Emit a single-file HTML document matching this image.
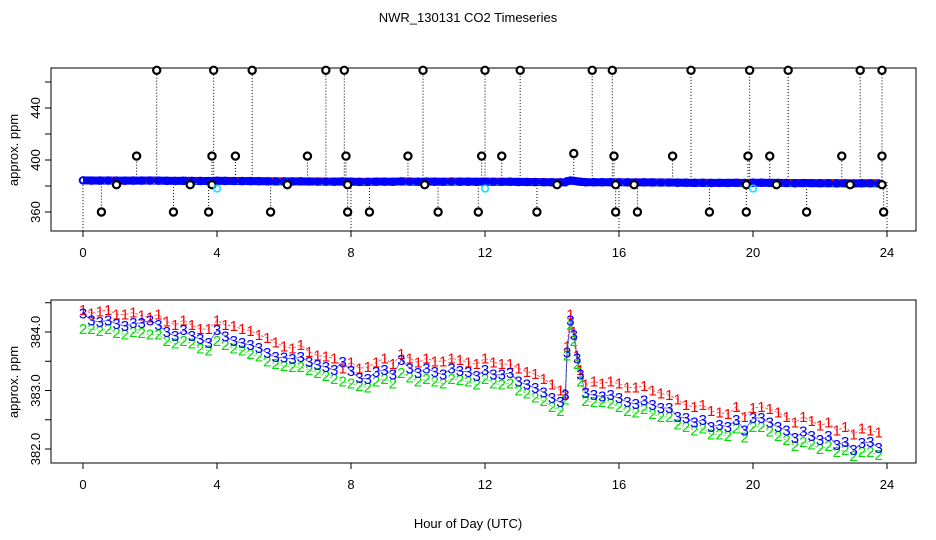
<!DOCTYPE html>
<html><head><meta charset="utf-8"><style>
body{margin:0;background:#fff}
svg{display:block;font-family:"Liberation Sans",sans-serif}
</style></head><body>
<svg id="c" width="936" height="540" viewBox="0 0 936 540">
<text x="468" y="22" text-anchor="middle" font-size="13">NWR_130131  CO2 Timeseries</text>
<text x="468" y="528" text-anchor="middle" font-size="13">Hour of Day (UTC)</text>
<text transform="translate(18,150) rotate(-90)" text-anchor="middle" font-size="13">approx. ppm</text>
<text transform="translate(18,382) rotate(-90)" text-anchor="middle" font-size="13">approx. ppm</text>
<g id="topPanel"></g>
<g id="botPanel"></g>
</svg>
<script>
const hours=[0,0.25,0.5,0.75,1,1.25,1.5,1.75,2,2.25,2.5,2.75,3,3.25,3.5,3.75,4,4.25,4.5,4.75,5,5.25,5.5,5.75,6,6.25,6.5,6.75,7,7.25,7.5,7.75,8,8.25,8.5,8.75,9,9.25,9.5,9.75,10,10.25,10.5,10.75,11,11.25,11.5,11.75,12,12.25,12.5,12.75,13,13.25,13.5,13.75,14,14.25,14.4,14.45,14.55,14.65,14.75,14.85,15,15.25,15.5,15.75,16,16.25,16.5,16.75,17,17.25,17.5,17.75,18,18.25,18.5,18.75,19,19.25,19.5,19.75,20,20.25,20.5,20.75,21,21.25,21.5,21.75,22,22.25,22.5,22.75,23,23.25,23.5,23.75];
const series3=[384.32,384.2,384.17,384.2,384.14,384.1,384.15,384.15,384.2,384.12,384.0,383.93,384.03,383.93,383.88,383.81,384.03,383.92,383.85,383.81,383.78,383.73,383.64,383.57,383.56,383.54,383.57,383.49,383.44,383.4,383.35,383.49,383.33,383.21,383.2,383.32,383.35,383.27,383.52,383.38,383.3,383.38,383.32,383.27,383.38,383.33,383.32,383.25,383.35,383.27,383.27,383.3,383.15,383.1,383.04,382.97,382.87,382.8,382.92,383.65,384.2,383.95,383.55,383.27,382.96,382.92,382.9,382.92,382.87,382.8,382.77,382.83,382.75,382.7,382.7,382.55,382.53,382.45,382.5,382.38,382.41,382.38,382.5,382.32,382.53,382.53,382.45,382.38,382.32,382.19,382.3,382.22,382.15,382.22,382.07,382.12,381.98,382.1,382.12,382.02];
const series1=[384.38,384.32,384.35,384.38,384.3,384.3,384.33,384.28,384.25,384.3,384.18,384.12,384.2,384.12,384.05,384.05,384.2,384.12,384.1,384.05,384.02,383.95,383.9,383.82,383.75,383.72,383.78,383.66,383.6,383.58,383.55,383.38,383.48,383.38,383.4,383.48,383.55,383.45,383.62,383.55,383.48,383.55,383.5,383.5,383.55,383.52,383.48,383.45,383.55,383.48,383.45,383.45,383.38,383.32,383.28,383.2,383.1,383.0,382.95,383.75,384.3,384.0,383.6,383.35,383.1,383.15,383.12,383.15,383.12,383.05,383.05,383.08,383.0,382.95,382.92,382.85,382.75,382.72,382.75,382.65,382.62,382.6,382.72,382.55,382.7,382.72,382.68,382.62,382.55,382.45,382.55,382.48,382.4,382.45,382.32,382.38,382.25,382.35,382.32,382.28];
const series2=[384.05,384.05,384.02,384.05,383.98,383.96,384.0,383.98,383.96,383.96,383.85,383.8,383.85,383.8,383.72,383.68,383.85,383.78,383.72,383.68,383.62,383.58,383.5,383.45,383.42,383.4,383.4,383.35,383.3,383.25,383.2,383.15,383.12,383.08,383.05,383.15,383.2,383.12,383.3,383.22,383.15,383.2,383.15,383.12,383.2,383.18,383.15,383.1,383.2,383.12,383.1,383.12,383.0,382.95,382.88,382.82,382.72,382.65,382.85,383.6,384.12,383.85,383.45,383.15,382.82,382.8,382.8,382.78,382.72,382.65,382.62,382.68,382.6,382.55,382.55,382.42,382.38,382.32,382.35,382.25,382.25,382.22,382.35,382.2,382.38,382.38,382.3,382.22,382.15,382.05,382.12,382.08,382.0,382.05,381.95,381.98,381.88,381.95,381.95,381.9];
const outlierHours=[2.2,3.9,5.05,7.25,7.8,10.15,12.0,13.05,15.2,15.8,18.15,19.9,21.05,23.2,23.85, 1.6,3.85,4.55,6.7,7.85,9.7,11.9,12.5,14.65,15.85,17.6,19.85,20.5,22.65,23.85, 0.55,2.7,3.75,5.6,7.9,8.55,10.6,11.8,13.55,15.9,16.55,18.7,19.8,21.6,23.9, 1.0,3.2,3.85,6.1,7.9,10.2,14.15,15.9,16.45,19.8,20.7,22.9,23.85];
const outlierValues=[469,469,469,469,469,469,469,469,469,469,469,469,469,469,469, 403,403,403,403,403,403,403,403,405,403,403,403,403,403,403, 360,360,360,360,360,360,360,360,360,360,360,360,360,360,360, 381,381,381,381,381,381,381,381,381,381,381,381,381];
const cyanHours=[4.0,12.0,20.0];
const cyanValues=[378,378,378];
const topYTicks=[360,380,400,420,440,460];
const topYLabels=["360","","400","","440",""];
const botYTicks=[382.0,382.5,383.0,383.5,384.0,384.5];
const botYLabels=["382.0","","383.0","","384.0",""];
const xTicks=[0,4,8,12,16,20,24];

const NS="http://www.w3.org/2000/svg";
function mk(p,t,a){const e=document.createElementNS(NS,t);for(const k in a)e.setAttribute(k,a[k]);p.appendChild(e);return e;}
const X=h=>83+h*33.5;
const L=51,R=916;
const Yt=v=>186-(v-380)*1.3;
const Yb=v=>332-(v-384)*58.5;
const topG=document.getElementById('topPanel'),botG=document.getElementById('botPanel');

function frame(g,t,b,yf,ticks,labels,name){
  const r=mk(g,'rect',{x:L,y:t,width:R-L,height:b-t,fill:'none',stroke:'#000','stroke-width':1});
  
  
  xTicks.forEach(h=>{
    const l=mk(g,'line',{x1:X(h),x2:X(h),y1:b,y2:b+6,stroke:'#000'});
    
    
    const tx=mk(g,'text',{x:X(h),y:b+26,'text-anchor':'middle','font-size':13});
    tx.textContent=h;
    
    
  });
  ticks.forEach((v,i)=>{
    const y=yf(v);
    const l=mk(g,'line',{x1:L-6,x2:L,y1:y,y2:y,stroke:'#000'});
    
    
    if(labels[i]){
      const tx=mk(g,'text',{transform:`translate(${L-11},${y}) rotate(-90)`,'text-anchor':'middle','font-size':13});
      tx.textContent=labels[i];
      
      
    }
  });
}
frame(topG,68,231,Yt,topYTicks,topYLabels,'top');
frame(botG,300,463,Yb,botYTicks,botYLabels,'bottom');

const baseAt=h=>{let best=0;hours.forEach((hh,i)=>{if(Math.abs(hh-h)<Math.abs(hours[best]-h))best=i;});return series3[best];};
outlierHours.forEach((h,i)=>{
  const l=mk(topG,'line',{x1:X(h),x2:X(h),y1:Yt(baseAt(h)),y2:Yt(outlierValues[i]),stroke:'#000','stroke-dasharray':'1,2'});
  
  
});
[0,8,16,24].forEach(h=>{
  const l=mk(topG,'line',{x1:X(h),x2:X(h),y1:Yt(383),y2:236,stroke:'#000','stroke-dasharray':'1,2'});
  
  
});
const bandPts=hours.map((h,i)=>X(h)+','+Yt(series3[i])).join(' ');
const band=mk(topG,'polyline',{points:bandPts,fill:'none',stroke:'#0000ff','stroke-width':8,'stroke-linejoin':'round'});


[[series1,'#ff0000',-2.5],[series2,'#00cc00',2.5]].forEach(([s,c,o])=>{
  const p=mk(topG,'polyline',{points:hours.map((h,i)=>X(h)+','+(Yt(s[i])+o)).join(' '),fill:'none',stroke:c,'stroke-width':1.2,'stroke-dasharray':'2,5'});
  
  
});
hours.forEach((h,i)=>{
  const c=mk(topG,'circle',{cx:X(h),cy:Yt(series3[i]),r:3.3,fill:'none',stroke:'#0000ff','stroke-width':2});
  
  
});
outlierHours.forEach((h,i)=>{
  const c=mk(topG,'circle',{cx:X(h),cy:Yt(outlierValues[i]),r:3.6,fill:'#fff',stroke:'#000','stroke-width':2.2});
  
  
});
cyanHours.forEach((h,i)=>{
  const c=mk(topG,'circle',{cx:X(h),cy:Yt(cyanValues[i]),r:3.3,fill:'none',stroke:'#00e5ff','stroke-width':1.5});
  
  
});

const sers=[[series1,'#ff0000','1','3,2'],[series2,'#00dd00','2','3,2'],[series3,'#0000ff','3','']];
sers.forEach(([s,c,lab,d])=>{
  const p=mk(botG,'polyline',{points:hours.map((h,i)=>X(h)+','+Yb(s[i])).join(' '),fill:'none',stroke:c,'stroke-width':1,'stroke-dasharray':d,opacity:0.6});
  
  
});
sers.forEach(([s,c,lab])=>{
  hours.forEach((h,i)=>{
    const t=mk(botG,'text',{x:X(h),y:Yb(s[i])+5,'text-anchor':'middle','font-size':15,fill:c});
    t.textContent=lab;
    
    
  });
});
</script>
</body></html>
